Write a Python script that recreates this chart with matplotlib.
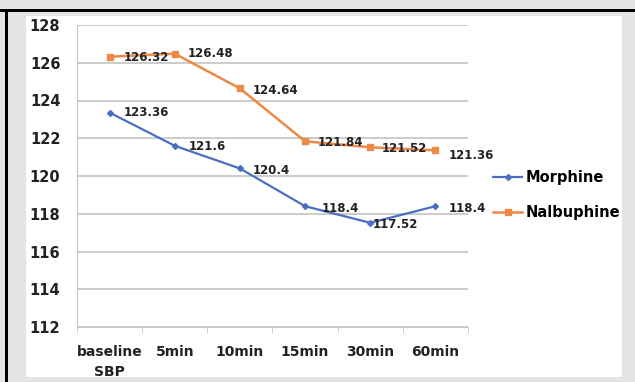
import matplotlib.pyplot as plt
from matplotlib.patches import Rectangle
from matplotlib.lines import Line2D

categories = ['baseline\nSBP', '5min', '10min', '15min', '30min', '60min']
morphine = [123.36, 121.6, 120.4, 118.4, 117.52, 118.4]
nalbuphine = [126.32, 126.48, 124.64, 121.84, 121.52, 121.36]
morphine_labels = ['123.36', '121.6', '120.4', '118.4', '117.52', '118.4']
nalbuphine_labels = ['126.32', '126.48', '124.64', '121.84', '121.52', '121.36']
yticks = [112, 114, 116, 118, 120, 122, 124, 126, 128]

blue = '#4a6fc0'
orange = '#ec8a45'

W, H = 635, 382
fig = plt.figure(figsize=(W / 100, H / 100), dpi=100)
fig.patch.set_facecolor('#e4e4e4')

# white chart area inside the grey frame
fig.patches.append(Rectangle((26 / W, 1 - 377 / H), (622 - 26) / W, (377 - 16) / H,
                             transform=fig.transFigure, facecolor='white', edgecolor='none', zorder=-10))
# black border on the top and left
fig.patches.append(Rectangle((0, 1 - 12 / H), 1, 3 / H, transform=fig.transFigure,
                             facecolor='black', edgecolor='none', zorder=-5))
fig.patches.append(Rectangle((5 / W, 0), 2.5 / W, 1 - 9 / H, transform=fig.transFigure,
                             facecolor='black', edgecolor='none', zorder=-5))

ax = fig.add_axes([77 / W, 1 - 327 / H, (468 - 77) / W, (327 - 25) / H])
ax.set_facecolor('none')

x = list(range(len(categories)))
ax.plot(x, morphine, color=blue, lw=1.6, marker='D', ms=3, label='Morphine', zorder=3)
ax.plot(x, nalbuphine, color=orange, lw=1.8, marker='s', ms=4, label='Nalbuphine', zorder=3)

# value labels sit just right of each point
lab = dict(fontsize=8.5, fontweight='bold', color='#222222', zorder=4)
m_dx = [0.22, 0.22, 0.2, 0.26, 0.04, 0.2]
m_dy = [0.0, -0.05, -0.1, -0.1, -0.1, -0.1]
n_dx = [0.22, 0.2, 0.2, 0.2, 0.18, 0.2]
n_dy = [-0.05, 0.0, -0.1, -0.05, -0.05, -0.25]
for i, (v, t) in enumerate(zip(morphine, morphine_labels)):
    ax.text(i + m_dx[i], v + m_dy[i], t, ha='left', va='center', **lab)
for i, (v, t) in enumerate(zip(nalbuphine, nalbuphine_labels)):
    ax.text(i + n_dx[i], v + n_dy[i], t, ha='left', va='center', **lab)

ax.set_xlim(-0.5, len(categories) - 0.5)
ax.set_ylim(112, 128)
ax.set_yticks(yticks)
ax.set_xticks(x)
ax.set_xticklabels(categories, fontsize=10, fontweight='bold', color='#222222', linespacing=1.5)
ax.set_xticks([i + 0.5 for i in range(-1, len(categories))], minor=True)
ax.tick_params(axis='x', which='major', length=0, pad=13)
ax.tick_params(axis='x', which='minor', length=4, color='#c8c8c8', direction='out')
ax.tick_params(axis='y', length=0, pad=12, labelsize=10.5)
for lbl in ax.get_yticklabels():
    lbl.set_fontweight('bold')
    lbl.set_color('#222222')

ax.grid(axis='y', color='#c4c4c4', lw=1.2)
ax.set_axisbelow(True)
for s in ['top', 'right']:
    ax.spines[s].set_visible(False)
ax.spines['left'].set_color('#c8c8c8')
ax.spines['bottom'].set_color('#c8c8c8')

handles = [Line2D([], [], color=blue, lw=1.6, marker='D', ms=3),
           Line2D([], [], color=orange, lw=1.8, marker='s', ms=4)]
fig.legend(handles, ['Morphine', 'Nalbuphine'], loc='center left',
           bbox_to_anchor=(480 / W, 1 - 195 / H), frameon=False,
           prop={'weight': 'bold', 'size': 10.5}, handlelength=2.0, handletextpad=0.2,
           labelspacing=1.4)

fig.savefig('out.png', dpi=100, facecolor=fig.get_facecolor())
